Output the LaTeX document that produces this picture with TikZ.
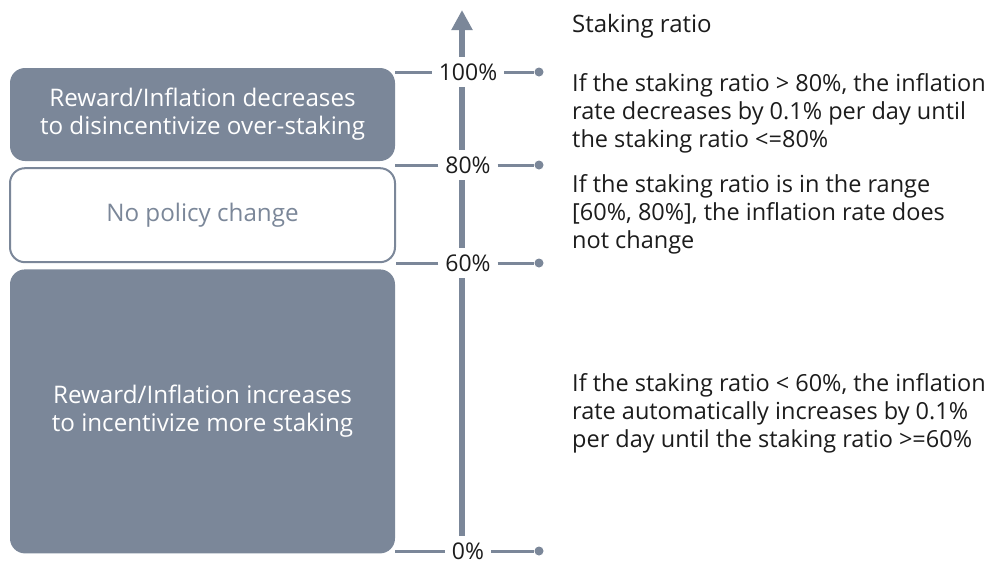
\documentclass[tikz,border=0pt]{standalone}
\usepackage{fontspec}
\setmainfont{Open Sans}
\usetikzlibrary{positioning,arrows.meta}
\definecolor{slate}{HTML}{7B8799}
\definecolor{ink}{HTML}{1C1C1C}

\begin{document}
\begin{tikzpicture}[x=1pt,y=-1pt,node distance=5pt,
    band/.style={rounded corners=15pt, minimum width=385pt, align=center, inner sep=0pt,
                 font=\fontsize{24.2}{28}\selectfont},
    full/.style={band, fill=slate, text=white},
    hollow/.style={band, draw=slate, line width=2pt, fill=white, text=slate},
    level/.style={inner sep=0pt, outer sep=7pt, text=ink, font=\fontsize{23}{25}\selectfont},
    dot/.style={circle, fill=slate, inner sep=0pt, minimum size=9pt},
    tick/.style={draw=slate, line width=3pt},
    axis/.style={draw=slate, line width=6.5pt},
    note/.style={anchor=base west, inner sep=0pt, align=left, text=ink,
                 font=\fontsize{23.5}{28}\selectfont}]
\useasboundingbox (0,0) rectangle (991,560);

% the three bands
\node[full, minimum height=93pt] (dec) at (202.5,114.5)
    {Reward/Inflation decreases\\ to disincentivize over-staking};
\node[hollow, minimum height=94pt] (keep) [below=6pt of dec] {No policy change};
\node[full, minimum height=284pt] (inc) [below=6pt of keep]
    {Reward/Inflation increases\\ to incentivize more staking};

% the axis with its levels
\coordinate (tip) at (462,10);
\node[level] (p100) at (468,72) {100\%};
\node[level] (p80)  at (468,165) {80\%};
\node[level] (p60)  at (468,263) {60\%};
\node[level] (p0)   at (468,551) {0\%};

\draw[axis, -{Triangle[width=20pt,length=20pt]}] (p100.north -| tip) -- (tip);
\draw[axis] (p100.south -| tip) -- (p80.north -| tip);
\draw[axis] (p80.south -| tip) -- (p60.north -| tip);
\draw[axis] (p60.south -| tip) -- (p0.north -| tip);

\foreach \lv in {100,80,60,0} {
  \node[dot] (d\lv) at (539,0 |- p\lv) {};
  \draw[tick] (p\lv) -- (d\lv);
}
\draw[tick] (p100) -- (p100 -| dec.east);
\draw[tick] (p80) -- (p80 -| dec.east);
\draw[tick] (p60) -- (p60 -| keep.east);
\draw[tick] (p0) -- (p0 -| inc.east);

% what each range does (base = last line)
\node[note, font=\fontsize{24}{28}\selectfont] (title) at (572,32) {Staking ratio};
\node[note] (over) at (572,147)
    {If the staking ratio > 80\%, the inflation\\ rate decreases by 0.1\% per day until\\ the staking ratio <=80\%};
\node[note] (range) at (572,248)
    {If the staking ratio is in the range\\ {[}60\%, 80\%{]}, the inflation rate does\\ not change};
\node[note] (under) at (572,447)
    {If the staking ratio < 60\%, the inflation\\ rate automatically increases by 0.1\%\\ per day until the staking ratio >=60\%};
\end{tikzpicture}
\end{document}
